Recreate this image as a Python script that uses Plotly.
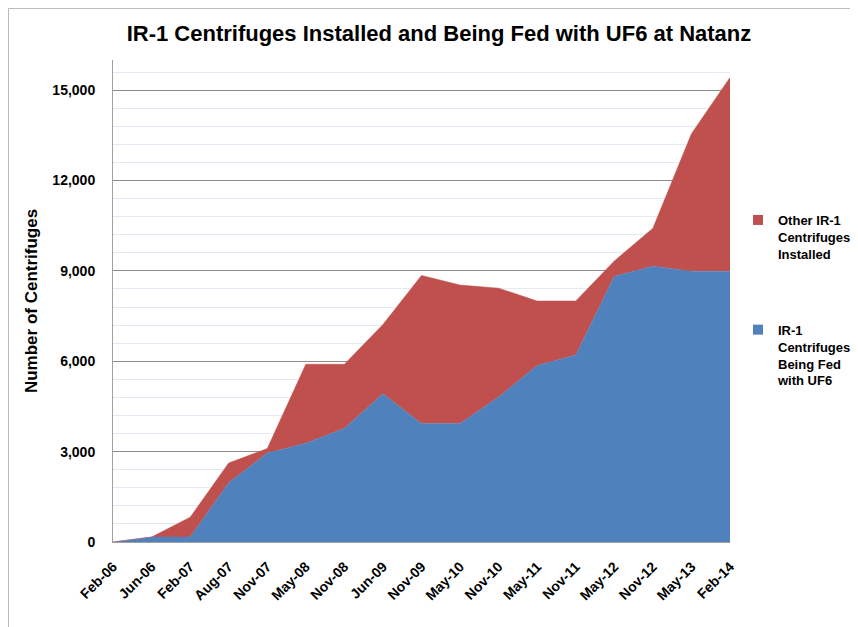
import plotly.graph_objects as go

dates = ["Feb-06", "Jun-06", "Feb-07", "Aug-07", "Nov-07", "May-08", "Nov-08", "Jun-09",
         "Nov-09", "May-10", "Nov-10", "May-11", "Nov-11", "May-12", "Nov-12", "May-13", "Feb-14"]
being_fed = [0, 164, 164, 1968, 2952, 3280, 3772, 4920, 3936, 3936, 4816, 5860, 6208, 8818, 9156, 8990, 8990]
total_installed = [0, 164, 820, 2624, 3100, 5900, 5900, 7221, 8850, 8528, 8426, 8000, 8000, 9330, 10414, 13555, 15420]
other_installed = [t - b for t, b in zip(total_installed, being_fed)]

name_fed = "IR-1<br>Centrifuges<br>Being Fed<br>with UF6"
name_other = "Other IR-1<br>Centrifuges<br>Installed"

blue = "#4F81BD"
red = "#C0504D"
font = "Liberation Sans"

# the page body adds an 8px offset; figure coordinates below are page coordinates minus 8
W, H = 850, 619
L, T, PW, PH = 105, 52, 617, 482

fig = go.Figure()
fig.add_trace(go.Scatter(
    x=dates, y=being_fed, stackgroup="one", mode="lines",
    line=dict(color=blue, width=0.5), fillcolor=blue,
    name=name_fed, showlegend=False))
fig.add_trace(go.Scatter(
    x=dates, y=other_installed, stackgroup="one", mode="lines",
    line=dict(color=red, width=0.5), fillcolor=red,
    name=name_other, showlegend=False))
# legend entries (square swatches)
fig.add_trace(go.Scatter(
    x=[None], y=[None], mode="markers", name=name_other, legendgroup="a", legendrank=1,
    marker=dict(symbol="square", size=10, color=red)))
fig.add_trace(go.Scatter(
    x=[None], y=[None], mode="markers", name=name_fed, legendgroup="b", legendrank=2,
    marker=dict(symbol="square", size=10, color=blue)))

fig.update_layout(
    width=W, height=H,
    margin=dict(l=L, r=W - L - PW, t=T, b=H - T - PH, autoexpand=False),
    paper_bgcolor="white", plot_bgcolor="white",
    title=dict(text="IR-1 Centrifuges Installed and Being Fed with UF6 at Natanz",
               x=431 / W, xanchor="center", y=1 - 25 / H, yanchor="middle",
               font=dict(family=font, size=22, color="black", weight="bold")),
    font=dict(family=font, color="black"),
    legend=dict(x=(730 - L) / PW, y=(T + PH - 197) / PH, xanchor="left", yanchor="top",
                traceorder="grouped", tracegroupgap=56, valign="top",
                font=dict(family=font, size=13, color="black", weight="bold"),
                itemwidth=30, bgcolor="rgba(0,0,0,0)"),
    showlegend=True,
)
fig.update_xaxes(
    type="category", range=[0, 16], tickangle=-45, automargin=False,
    tickfont=dict(family=font, size=14, color="black", weight="bold"),
    showline=True, linecolor="#A0A0A0", linewidth=1,
    showgrid=False, ticks="", ticklabelstandoff=10,
)
fig.update_yaxes(
    range=[0, 16000], tickvals=[0, 3000, 6000, 9000, 12000, 15000],
    tickformat=",", automargin=False,
    tickfont=dict(family=font, size=14, color="black", weight="bold"),
    showline=True, linecolor="#A0A0A0", linewidth=1,
    showgrid=True, gridcolor="#8C8C8C", gridwidth=1,
    minor=dict(dtick=600, tick0=0, showgrid=True, gridcolor="#E4EAF3", gridwidth=1),
    zeroline=False, ticks="", ticklabelstandoff=14,
    title=dict(text="Number of Centrifuges", standoff=10,
               font=dict(family=font, size=17, color="black", weight="bold")),
)
fig.add_shape(type="rect", xref="paper", yref="paper",
              x0=(0.5 - L) / PW, x1=(870 - L) / PW, y0=(T + PH - 640) / PH, y1=(T + PH - 0.5) / PH,
              line=dict(color="#BBBBBB", width=1), layer="below")

fig.write_html("out.html")
